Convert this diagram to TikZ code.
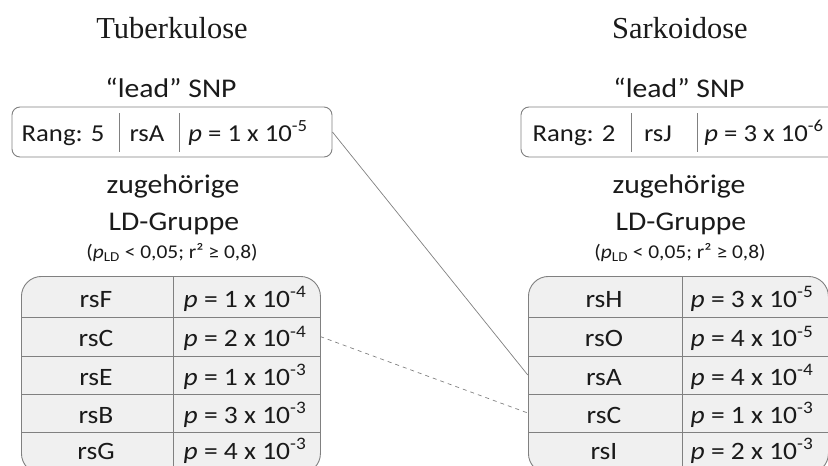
\documentclass[tikz,border=0pt]{standalone}
\usepackage{fontspec}
\setmainfont{Carlito}[FakeStretch=1.1]
\newfontfamily\titlefont{Liberation Serif}
\definecolor{linegray}{HTML}{808080}
\definecolor{cellfill}{HTML}{F0F0F0}
\definecolor{txtcol}{HTML}{1A1A1A}
\begin{document}
\begin{tikzpicture}[x=1pt,y=-1pt,
  title/.style={font=\titlefont\fontsize{30.5}{34}\selectfont, anchor=base, inner sep=0pt, text=txtcol},
  head/.style={font=\fontsize{27}{31}\selectfont, anchor=base, inner sep=0pt, text=txtcol},
  sub/.style={font=\fontsize{19.5}{23}\selectfont, anchor=base, inner sep=0pt, text=txtcol},
  leadtxt/.style={font=\fontsize{24.3}{28}\selectfont, anchor=base, inner sep=0pt, text=txtcol},
  celltxt/.style={font=\fontsize{25}{29}\selectfont, anchor=base, inner sep=0pt, text=txtcol},
  leadbox/.style={draw=linegray, line width=0.9pt, rounded corners=8pt, fill=white, inner sep=0pt},
  tablebox/.style={draw=linegray, line width=0.9pt, rounded corners=20pt, fill=cellfill, inner sep=0pt},
  rowcell/.style={inner sep=0pt, minimum height=38pt},
  divider/.style={draw=linegray, line width=0.8pt},
  conn/.style={draw=linegray, line width=0.7pt},
  connd/.style={draw=linegray, line width=0.7pt, dash pattern=on 4pt off 4pt}
]
\useasboundingbox (0,0) rectangle (828,466);
\clip (0,0) rectangle (828,466);

% titles
\node[title] (tT) at (172,38) {Tuberkulose};
\node[title] (tS) at (680,38) {Sarkoidose};

% lead SNP headings
\node[head] (hL) at (171,97) {“lead” SNP};
\node[head] (hR) at (679,97) {“lead” SNP};

% lead boxes
\node[leadbox, minimum width=320pt, minimum height=50pt] (leadL) at (172,132) {};
\node[leadbox, minimum width=330pt, minimum height=50pt] (leadR) at (686,132) {};
\draw[divider] (119,113) -- (119,152);
\draw[divider] (179,113) -- (179,152);
\draw[divider] (631,113) -- (631,152);
\draw[divider] (697,113) -- (697,152);
\node[leadtxt] (l1) at (63,141) {Rang: 5};
\node[leadtxt] (l2) at (147,141) {rsA};
\node[leadtxt] (l3) at (248,141) {\textit{p} = 1 x 10\textsuperscript{-5}};
\node[leadtxt] (r1) at (574,141) {Rang: 2};
\node[leadtxt] (r2) at (658,141) {rsJ};
\node[leadtxt] (r3) at (764,141) {\textit{p} = 3 x 10\textsuperscript{-6}};

% LD group headings
\node[head] (zL) at (173,193) {zugehörige};
\node[head] (gL) at (174,230) {LD-Gruppe};
\node[sub]  (sL) at (172,258) {(\textit{p}\textsubscript{LD} < 0,05; r² ≥ 0,8)};
\node[head] (zR) at (679,193) {zugehörige};
\node[head] (gR) at (681,230) {LD-Gruppe};
\node[sub]  (sR) at (680,258) {(\textit{p}\textsubscript{LD} < 0,05; r² ≥ 0,8)};

% tables
\node[tablebox, minimum width=299pt, minimum height=197pt, anchor=north west] (tabL) at (21,276) {};
\node[tablebox, minimum width=300pt, minimum height=197pt, anchor=north west] (tabR) at (528,276) {};
\foreach \y in {317,356,394,432} {
  \draw[divider] (21,\y) -- (320,\y);
  \draw[divider] (528,\y) -- (828,\y);
}
\draw[divider] (173,276) -- (173,470);
\draw[divider] (682,276) -- (682,470);

% row cells (for connectors)
\node[rowcell, minimum width=299pt] (L2) at (170.5,336.5) {};
\node[rowcell, minimum width=300pt] (R3) at (678,375) {};
\node[rowcell, minimum width=300pt] (R4) at (678,413) {};

% left table text
\node[celltxt] (a1) at (96,307) {rsF};
\node[celltxt] (b1) at (245,307) {\textit{p} = 1 x 10\textsuperscript{-4}};
\node[celltxt] (a2) at (96,346.5) {rsC};
\node[celltxt] (b2) at (245,346.5) {\textit{p} = 2 x 10\textsuperscript{-4}};
\node[celltxt] (a3) at (96,385) {rsE};
\node[celltxt] (b3) at (245,385) {\textit{p} = 1 x 10\textsuperscript{-3}};
\node[celltxt] (a4) at (96,423) {rsB};
\node[celltxt] (b4) at (245,423) {\textit{p} = 3 x 10\textsuperscript{-3}};
\node[celltxt] (a5) at (96,459) {rsG};
\node[celltxt] (b5) at (245,459) {\textit{p} = 4 x 10\textsuperscript{-3}};

% right table text
\node[celltxt] (c1) at (604,307) {rsH};
\node[celltxt] (d1) at (752,307) {\textit{p} = 3 x 10\textsuperscript{-5}};
\node[celltxt] (c2) at (604,346.5) {rsO};
\node[celltxt] (d2) at (752,346.5) {\textit{p} = 4 x 10\textsuperscript{-5}};
\node[celltxt] (c3) at (604,385) {rsA};
\node[celltxt] (d3) at (752,385) {\textit{p} = 4 x 10\textsuperscript{-4}};
\node[celltxt] (c4) at (604,423) {rsC};
\node[celltxt] (d4) at (752,423) {\textit{p} = 1 x 10\textsuperscript{-3}};
\node[celltxt] (c5) at (604,459) {rsI};
\node[celltxt] (d5) at (752,459) {\textit{p} = 2 x 10\textsuperscript{-3}};

% connectors
\draw[conn] (leadL.east) -- (R3.west);
\draw[connd] (L2.east) -- (R4.west);
\end{tikzpicture}
\end{document}
